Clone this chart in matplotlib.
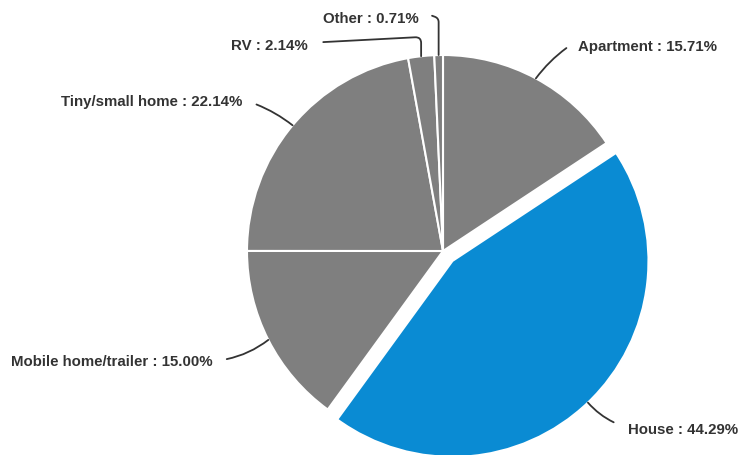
import matplotlib.pyplot as plt
import numpy as np

labels = ['Apartment', 'House', 'Mobile home/trailer', 'Tiny/small home', 'RV', 'Other']
shares = [15.71, 44.29, 15.00, 22.14, 2.14, 0.71]
colors = ['#7f7f7f', '#0a8bd3', '#7f7f7f', '#7f7f7f', '#7f7f7f', '#7f7f7f']
explode = [0, 0.07, 0, 0, 0, 0]

W, H = 740, 456
cx, cy, r = 443, H - 252, 196

fig = plt.figure(figsize=(W / 100, H / 100), dpi=100)
ax = fig.add_axes([0, 0, 1, 1])

# pie() takes explode as an absolute offset, so scale it by the radius
wedges, _ = ax.pie(shares, colors=colors, explode=[e * r for e in explode],
                   startangle=90, counterclock=False, radius=r, center=(cx, cy),
                   wedgeprops=dict(edgecolor='white', linewidth=1.5))

# pie() resets the limits, so set the pixel-sized frame afterwards
ax.set_xlim(0, W)
ax.set_ylim(0, H)
ax.set_aspect('equal')
ax.axis('off')

# label placement: (text x, text y from top, alignment, connector style, relpos, gap in pt)
label_pos = [
    (578, 47, 'left', 'arc3,rad=0.1', (0, 0.9), 10),
    (628, 430, 'left', 'arc3,rad=-0.15', (0, 0.6), 11),
    (213, 362, 'right', 'arc3,rad=0.15', (1, 0.5), 10),
    (242, 102, 'right', 'arc3,rad=-0.1', (1, 0.6), 11),
    (308, 46, 'right', 'angle,angleA=3,angleB=90,rad=6', (1, 0.65), 11),
    (419, 19, 'right', 'angle,angleA=-20,angleB=90,rad=4', (1, 1.0), 10),
]

for w, lab, val, ex, (tx, ty, ha, cs, rp, gap) in zip(wedges, labels, shares,
                                                     explode, label_pos):
    mid = np.deg2rad((w.theta1 + w.theta2) / 2)
    px = cx + (1 + ex) * r * np.cos(mid)
    py = cy + (1 + ex) * r * np.sin(mid)
    ax.annotate(f'{lab} : {val:.2f}%', xy=(px, py), xytext=(tx, H - ty),
                ha=ha, va='center', fontsize=10.8, fontweight='bold',
                family='Liberation Sans', color='#333333',
                arrowprops=dict(arrowstyle='-', color='#333333', lw=1.3,
                                connectionstyle=cs, shrinkA=gap, shrinkB=0,
                                relpos=rp, patchA=None))

fig.savefig('out.png', dpi=100, facecolor='white')
